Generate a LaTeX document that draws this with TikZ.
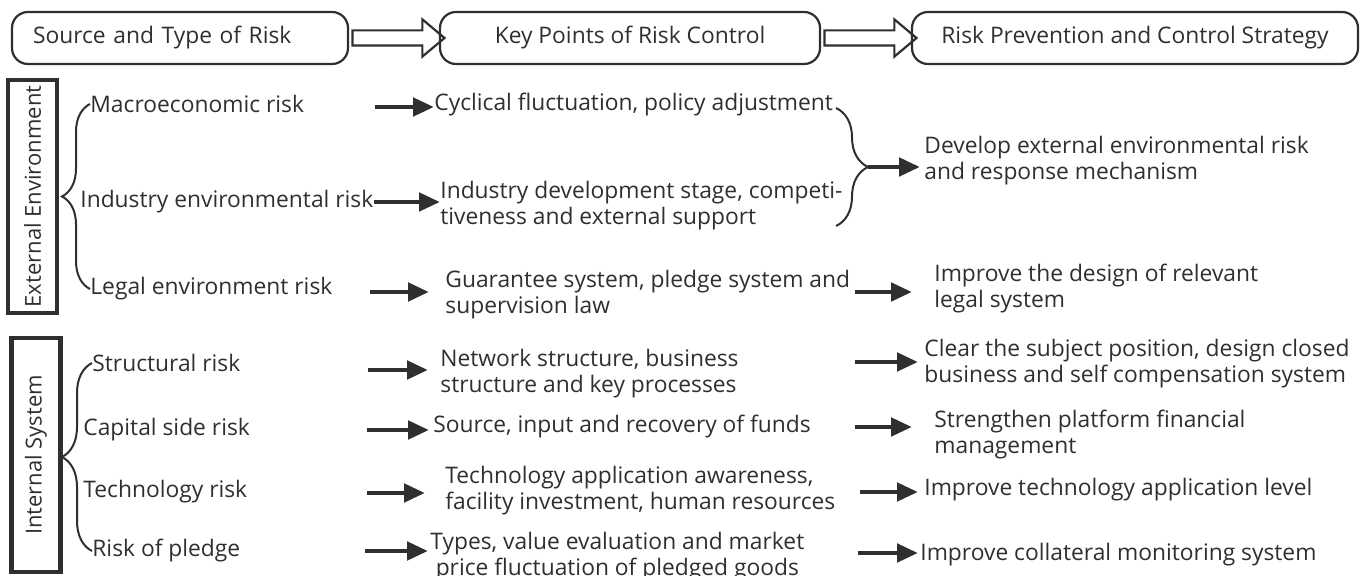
\documentclass[tikz,border=0pt]{standalone}
\usepackage{fontspec}
\setmainfont{Open Sans}
\usetikzlibrary{arrows.meta,shapes.arrows,decorations.pathreplacing}
\definecolor{ink}{HTML}{2F2F2F}
\tikzset{
  headbox/.style={draw=ink, line width=1.1pt, rounded corners=8pt, minimum height=26pt, inner xsep=0pt, text=ink},
  sidebox/.style={draw=ink, line width=2.2pt, rotate=90, minimum height=24.5pt, inner sep=0pt, text=ink, font=\fontsize{11}{13}\selectfont},
  hollow/.style={single arrow, draw=ink, line width=1.1pt, inner sep=3.25pt, single arrow head extend=5.5pt, single arrow tip angle=80, minimum height=46pt},
  item/.style={anchor=west, inner sep=0pt, text=ink, align=left},
  flow/.style={draw=ink, line width=2.4pt, -{Triangle[length=10.5pt,width=9pt]}},
  brc/.style={draw=ink, line width=1pt, decorate}
}
\begin{document}
\begin{tikzpicture}[x=0.5pt, y=-0.5pt, font=\fontsize{11.4}{13}\selectfont]
\useasboundingbox (0,0) rectangle (1368,576);

\node[headbox, minimum width=168pt, text width=168pt, align=left] (h1) at (180,38) {\hspace*{10.5pt}Source and Type of Risk};
\node[headbox, minimum width=190pt] (h2) at (630,38) {Key Points of Risk Control};
\node[headbox, minimum width=223pt] (h3) at (1135,38) {Risk Prevention and Control Strategy};
\node[hollow] (ar1) at (394,38) {};
\node[hollow] (ar2) at (866,38) {};

\node[sidebox, minimum width=116.5pt] (ext) at (32.5,196.5) {External Environment};
\node[sidebox, minimum width=117pt] (int) at (36,455) {Internal System};

\node[item] (macro) at (90,104) {Macroeconomic risk};
\node[item] (indus) at (80,202) {Industry environmental risk};
\node[item] (legal) at (90,289) {Legal environment risk};
\node[item] (struc) at (92,363) {Structural risk};
\node[item] (capit) at (83,430) {Capital side risk};
\node[item] (techn) at (83,492) {Technology risk};
\node[item] (pledg) at (92,551) {Risk of pledge};

\node[item] (cyc) at (434,105) {Cyclical fluctuation, policy adjustment};
\node[item] (idev) at (440,205.5) {Industry development stage, competi-\\tiveness and external support};
\node[item] (guar) at (445,294.5) {Guarantee system, pledge system and\\supervision law};
\node[item] (netw) at (440,373.5) {Network structure, business\\structure and key processes};
\node[item] (fund) at (433,427) {Source, input and recovery of funds};
\node[item] (tapp) at (445,491) {Technology application awareness,\\facility investment, human resources};
\node[item, align=center] (types) at (430,557) {Types, value evaluation and market\\price fluctuation of pledged goods};

\node[item] (devl) at (924,160.5) {Develop external environmental risk\\and response mechanism};
\node[item] (legs) at (934,289) {Improve the design of relevant\\legal system};
\node[item] (clear) at (924,364) {Clear the subject position, design closed\\business and self compensation system};
\node[item] (fin) at (934,434.5) {Strengthen platform financial\\management};
\node[item] (tlev) at (924,490) {Improve technology application level};
\node[item] (coll) at (920,555) {Improve collateral monitoring system};

\draw[brc, decoration={brace, amplitude=14pt}] (legal.west) -- (macro.west);
\draw[brc, decoration={brace, amplitude=15pt}] (pledg.west) -- (struc.west);
\coordinate (rb1) at (836,108);
\coordinate (rb2) at (836,226);
\coordinate (rbt) at (868,167);
\draw[brc, decoration={brace, amplitude=16pt}] (rb1) -- (rb2);

\coordinate (s1) at (375,107);
\coordinate (s3) at (370,292);
\coordinate (s4) at (368,370);
\coordinate (s5) at (367,430);
\coordinate (s6) at (367,493);
\coordinate (s7) at (365,551);
\draw[flow] (s1) -- (s1 -| cyc.west);
\draw[flow] (indus.east) -- (indus.east -| idev.west);
\draw[flow, shorten >=8pt] (s3) -- (s3 -| guar.west);
\draw[flow, shorten >=6pt] (s4) -- (s4 -| netw.west);
\draw[flow, shorten >=2pt] (s5) -- (s5 -| fund.west);
\draw[flow, shorten >=10pt] (s6) -- (s6 -| tapp.west);
\draw[flow, shorten >=1pt] (s7) -- (s7 -| types.west);

\coordinate (r3) at (855,292);
\coordinate (r4) at (855,362);
\coordinate (r5) at (855,427);
\coordinate (r6) at (860,492);
\coordinate (r7) at (858,553);
\draw[flow, shorten >=2pt] (rbt) -- (rbt -| devl.west);
\draw[flow, shorten >=11pt] (r3) -- (r3 -| legs.west);
\draw[flow, shorten >=3pt] (r4) -- (r4 -| clear.west);
\draw[flow, shorten >=11pt] (r5) -- (r5 -| fin.west);
\draw[flow, shorten >=3pt] (r6) -- (r6 -| tlev.west);
\draw[flow, shorten >=1pt] (r7) -- (r7 -| coll.west);
\end{tikzpicture}
\end{document}
